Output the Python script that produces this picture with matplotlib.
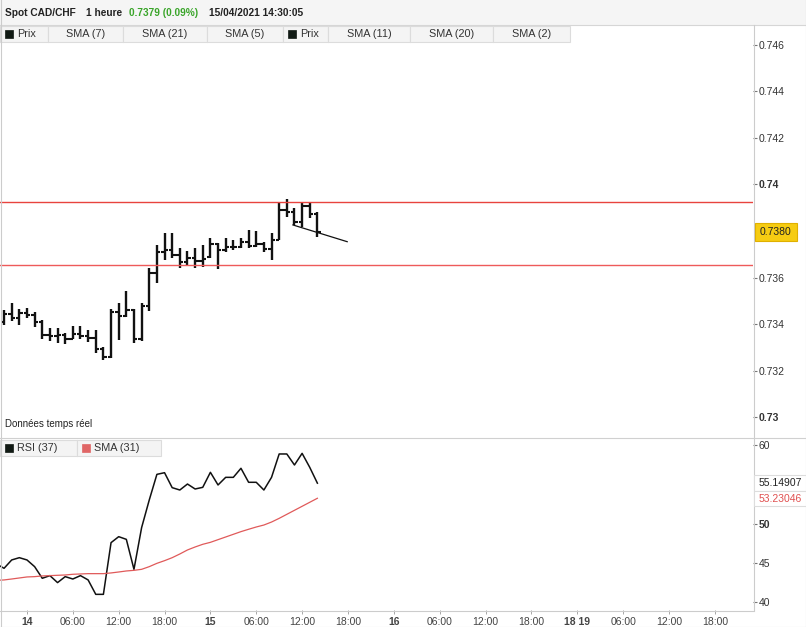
import matplotlib
matplotlib.use('Agg')
import matplotlib.pyplot as plt
from matplotlib.patches import Rectangle
from matplotlib.lines import Line2D

plt.rcParams['font.family'] = ['Liberation Sans', 'DejaVu Sans']

W, H = 806, 627

# ---------------- data ----------------
# hourly bars, hours relative to 14/04 00:00
bar_hours = list(range(-3, 39))
opens = [0.73409, 0.73443, 0.73426, 0.73447, 0.73439, 0.73409, 0.73353, 0.73348, 0.73353, 0.73336,
         0.73357, 0.73348, 0.73340, 0.73292, 0.73258, 0.73452, 0.73434, 0.73460, 0.73336, 0.73477,
         0.73619, 0.73710, 0.73718, 0.73697, 0.73667, 0.73684, 0.73671, 0.73688, 0.73744, 0.73718,
         0.73731, 0.73731, 0.73753, 0.73736, 0.73744, 0.73723, 0.73761, 0.73890, 0.73882, 0.73839,
         0.73908, 0.73873]
highs = [0.73460, 0.73490, 0.73465, 0.73469, 0.73452, 0.73417, 0.73383, 0.73383, 0.73361, 0.73391,
         0.73391, 0.73374, 0.73374, 0.73301, 0.73465, 0.73490, 0.73542, 0.73465, 0.73490, 0.73641,
         0.73740, 0.73791, 0.73791, 0.73727, 0.73714, 0.73727, 0.73740, 0.73770, 0.73748, 0.73770,
         0.73761, 0.73770, 0.73804, 0.73800, 0.73753, 0.73791, 0.73925, 0.73938, 0.73899, 0.73925,
         0.73925, 0.73882]
lows = [0.73396, 0.73413, 0.73396, 0.73426, 0.73387, 0.73336, 0.73327, 0.73318, 0.73314, 0.73336,
        0.73336, 0.73323, 0.73275, 0.73245, 0.73254, 0.73331, 0.73430, 0.73318, 0.73327, 0.73456,
        0.73576, 0.73675, 0.73684, 0.73641, 0.73654, 0.73641, 0.73645, 0.73684, 0.73637, 0.73710,
        0.73718, 0.73727, 0.73727, 0.73731, 0.73710, 0.73675, 0.73761, 0.73860, 0.73826, 0.73817,
        0.73856, 0.73774]
closes = [0.73443, 0.73426, 0.73447, 0.73439, 0.73409, 0.73353, 0.73348, 0.73353, 0.73336, 0.73357,
          0.73348, 0.73340, 0.73292, 0.73258, 0.73452, 0.73434, 0.73460, 0.73336, 0.73477, 0.73619,
          0.73710, 0.73718, 0.73697, 0.73667, 0.73684, 0.73671, 0.73680, 0.73744, 0.73718, 0.73731,
          0.73731, 0.73753, 0.73736, 0.73744, 0.73723, 0.73761, 0.73890, 0.73882, 0.73839, 0.73908,
          0.73873, 0.73796]

resistance = 0.73923
support = 0.73654
trend_x = [34.8, 41.9]
trend_y = [0.73826, 0.73754]

rsi_hours = list(range(-4, 39))
rsi = [44.88, 44.33, 45.39, 45.68, 45.39, 44.54, 43.06, 43.40, 42.51, 43.27, 42.97, 43.40, 42.85,
       41.02, 41.02, 47.59, 48.35, 48.01, 44.20, 49.50, 53.01, 56.27, 56.48, 54.58, 54.28, 55.04,
       54.41, 54.62, 56.53, 54.92, 55.89, 55.89, 57.04, 55.26, 55.26, 54.28, 55.89, 58.86, 58.86,
       57.46, 58.94, 57.16, 55.15]
rsi_sma = [42.80, 42.85, 42.97, 43.10, 43.23, 43.27, 43.36, 43.40, 43.44, 43.48, 43.57, 43.61, 43.65,
           43.65, 43.65, 43.74, 43.86, 43.99, 44.07, 44.20, 44.54, 44.96, 45.30, 45.68, 46.15, 46.66,
           47.04, 47.38, 47.63, 47.97, 48.31, 48.65, 48.99, 49.29, 49.58, 49.83, 50.21, 50.68, 51.19,
           51.70, 52.21, 52.72, 53.23]
rsi_last_label = "55.14907"
sma_last_label = "53.23046"

price_ticks = [0.730, 0.732, 0.734, 0.736, 0.740, 0.742, 0.744, 0.746]
price_tick_labels = ["0.73", "0.732", "0.734", "0.736", "0.74", "0.742", "0.744", "0.746"]
rsi_ticks = [40, 45, 50, 60]
x_ticks = [0, 6, 12, 18, 24, 30, 36, 42, 48, 54, 60, 66, 72, 78, 84, 90]
x_tick_labels = ["14", "06:00", "12:00", "18:00", "15", "06:00", "12:00", "18:00", "16",
                 "06:00", "12:00", "18:00", "18 19", "06:00", "12:00", "18:00"]
bold_x = {"14", "15", "16", "18 19"}

header_parts = [("Spot CAD/CHF", '#222222'), ("1 heure", '#222222'),
                ("0.7379 (0.09%)", '#3aa52a'), ("15/04/2021 14:30:05", '#222222')]
legend_top = [("Prix", True), ("SMA (7)", False), ("SMA (21)", False), ("SMA (5)", False),
              ("Prix", True), ("SMA (11)", False), ("SMA (20)", False), ("SMA (2)", False)]
legend_rsi = [("RSI (37)", '#111a14'), ("SMA (31)", '#e06666')]

# ---------------- layout helpers ----------------
def fx(x):
    return x / W

def fy(y):
    return 1 - y / H

fig = plt.figure(figsize=(W / 100, H / 100), dpi=100)
fig.patch.set_facecolor('white')

XL = (-3.53, 95.0)
ax = fig.add_axes([0, fy(437), fx(753), (437 - 26) / H])
ax2 = fig.add_axes([0, fy(610), fx(753), (610 - 438) / H])

# ---------------- price panel ----------------
ax.vlines(bar_hours, lows, highs, color='#111111', lw=1.7)
ax.hlines(opens, [h - 0.45 for h in bar_hours], bar_hours, color='#111111', lw=1.5)
ax.hlines(closes, bar_hours, [h + 0.45 for h in bar_hours], color='#111111', lw=1.5)
ax.axhline(resistance, color='#e8433e', lw=1.0)
ax.axhline(support, color='#ee5a5a', lw=1.0)
ax.plot(trend_x, trend_y, color='#111111', lw=0.9)
ax.set_xlim(*XL)
ax.set_ylim(0.72914, 0.746817)
ax.yaxis.tick_right()
ax.set_yticks(price_ticks)
ax.set_yticklabels(price_tick_labels)
for t, s in zip(ax.get_yticklabels(), price_tick_labels):
    if s in ("0.74", "0.73"):
        t.set_fontweight('bold')
ax.tick_params(axis='y', direction='out', length=3, width=0.8, pad=1, labelsize=7.5,
               colors='#333333')
ax.tick_params(axis='y', color='#777777')
ax.set_xticks([])
for s in ax.spines.values():
    s.set_visible(False)
ax.text(5 / 753, (437 - 424) / (437 - 26), "Données temps réel", transform=ax.transAxes,
        fontsize=7, color='#222222', va='center', ha='left')

# ---------------- RSI panel ----------------
ax2.plot(rsi_hours, rsi, color='#111111', lw=1.1)
ax2.plot(rsi_hours, rsi_sma, color='#e05a5a', lw=0.9)
ax2.set_xlim(*XL)
ax2.set_ylim(39.03, 60.89)
ax2.yaxis.tick_right()
ax2.set_yticks(rsi_ticks)
ax2.set_yticklabels([str(v) for v in rsi_ticks])
for t in ax2.get_yticklabels():
    if t.get_text() == "50":
        t.set_fontweight('bold')
ax2.tick_params(axis='y', direction='out', length=3, width=0.8, pad=1, labelsize=7.5,
                colors='#333333')
ax2.tick_params(axis='y', color='#777777')
ax2.set_xticks(x_ticks)
ax2.set_xticklabels(x_tick_labels)
for t in ax2.get_xticklabels():
    if t.get_text() in bold_x:
        t.set_fontweight('bold')
ax2.tick_params(axis='x', direction='out', length=3, width=0.6, pad=2, labelsize=7.5,
                colors='#444444')
ax2.tick_params(axis='x', color='#999999')
for s in ax2.spines.values():
    s.set_visible(False)

# ---------------- frame, header, legends ----------------
def frect(x0, y0, x1, y1, fc, ec, lw=0.8, z=5):
    r = Rectangle((fx(x0), fy(y1)), fx(x1) - fx(x0), fy(y0) - fy(y1), transform=fig.transFigure,
                  facecolor=fc, edgecolor=ec, lw=lw, zorder=z)
    fig.add_artist(r)

def fline(x0, y0, x1, y1, c='#cccccc', lw=0.8, z=6):
    fig.add_artist(Line2D([fx(x0), fx(x1)], [fy(y0), fy(y1)], transform=fig.transFigure,
                          color=c, lw=lw, zorder=z))

# header
frect(0, 0, 806, 25, '#f5f5f5', 'none', z=4)
fline(0, 25, 806, 25, '#d6d6d6')
hx = [5, 86, 129, 209]
for (txt, col), x in zip(header_parts, hx):
    fig.text(fx(x), fy(13), txt, fontsize=7.3, fontweight='bold', color=col, va='center',
             ha='left', zorder=7)

# outer lines
fline(0.5, 0, 0.5, 627, '#cccccc')
fline(805.5, 0, 805.5, 627, '#cccccc')
fline(0, 626.5, 806, 626.5, '#cccccc')
fline(753.5, 25, 753.5, 610, '#cccccc')
fline(0, 437.5, 806, 437.5, '#d0d0d0')
fline(0, 610.5, 753.5, 610.5, '#cccccc')

# top legend cells
edges = [0, 48, 123, 207, 283, 328, 410, 493, 570]
for (lab, has_icon), x0, x1 in zip(legend_top, edges[:-1], edges[1:]):
    frect(x0, 26, x1, 42, '#f4f4f4', '#dcdcdc', z=5)
    if has_icon:
        frect(x0 + 5, 29.5, x0 + 13, 38, '#111a14', '#111a14', lw=0.5, z=6)
        fig.text(fx(x0 + 17), fy(34), lab, fontsize=7.8, color='#333333', va='center',
                 ha='left', zorder=7)
    else:
        fig.text(fx((x0 + x1) / 2), fy(34), lab, fontsize=7.8, color='#333333', va='center',
                 ha='center', zorder=7)

# RSI legend cells
redges = [0, 77, 161]
for (lab, col), x0, x1 in zip(legend_rsi, redges[:-1], redges[1:]):
    frect(x0, 440, x1, 456, '#f4f4f4', '#dcdcdc', z=5)
    frect(x0 + 5, 444, x0 + 13, 452, col, col, lw=0.5, z=6)
    fig.text(fx(x0 + 17), fy(448), lab, fontsize=7.8, color='#333333', va='center',
             ha='left', zorder=7)

# current price label
frect(755, 223, 797, 241, '#f6cc12', '#e0b000', z=6)
fig.text(fx(776), fy(232), f"{closes[-1]:.4f}", fontsize=7.5, color='#222222', va='center',
         ha='center', zorder=7)

# RSI value labels
frect(754, 475, 806, 491, 'white', '#dddddd', z=6)
fig.text(fx(759), fy(483), rsi_last_label, fontsize=7.5, color='#222222', va='center',
         ha='left', zorder=7)
frect(754, 491, 806, 506, 'white', '#dddddd', z=6)
fig.text(fx(759), fy(498.5), sma_last_label, fontsize=7.5, color='#e05050', va='center',
         ha='left', zorder=7)

fig.savefig('out.png', dpi=100)
